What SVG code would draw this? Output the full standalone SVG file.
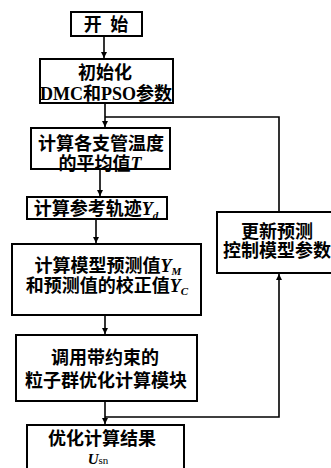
<svg xmlns="http://www.w3.org/2000/svg" width="331" height="468" viewBox="0 0 331 468">
<defs>
<style>
.box{fill:#fff;stroke:#000;stroke-width:2}
.ln{fill:none;stroke:#000;stroke-width:1.6}
text{font-family:"Liberation Serif","Noto Sans CJK SC",serif;font-size:18px;font-weight:bold;text-anchor:middle;fill:#000}
.it{font-style:italic}
.sub{font-size:11px;font-style:italic}
</style>
<marker id="ah" viewBox="0 0 10 10" refX="10" refY="5" markerWidth="10" markerHeight="6" orient="auto" markerUnits="userSpaceOnUse">
<path d="M0,0 L10,5 L0,10 Z" fill="#000"/>
</marker>
</defs>
<rect width="331" height="468" fill="#fff"/>
<g id="connectors">
<line class="ln" x1="104" y1="36" x2="104" y2="58" marker-end="url(#ah)"/>
<line class="ln" x1="105" y1="103" x2="105" y2="127" marker-end="url(#ah)"/>
<polyline class="ln" points="279,212 279,117 105,117"/>
<line class="ln" x1="100" y1="169" x2="100" y2="196" marker-end="url(#ah)"/>
<line class="ln" x1="96" y1="219" x2="96" y2="243" marker-end="url(#ah)"/>
<line class="ln" x1="105" y1="315" x2="105" y2="334" marker-end="url(#ah)"/>
<line class="ln" x1="105" y1="401" x2="105" y2="424" marker-end="url(#ah)"/>
<polyline class="ln" points="105,417 279,417 279,274" marker-end="url(#ah)"/>
</g>
<g id="start">
<rect class="box" x="71" y="12" width="71" height="24"/>
<text x="106" y="31" style="word-spacing:4px">开 始</text>
</g>
<g id="init">
<rect class="box" x="40" y="59" width="133" height="44"/>
<text x="105" y="79">初始化</text>
<text x="106" y="100">DMC和PSO参数</text>
</g>
<g id="avg">
<rect class="box" x="31" y="128" width="139" height="41"/>
<text x="101" y="150">计算各支管温度</text>
<text x="100" y="170">的平均值<tspan class="it">T</tspan></text>
</g>
<g id="ref">
<rect class="box" x="27" y="197" width="140" height="22"/>
<text x="96" y="215">计算参考轨迹<tspan class="it">Y</tspan><tspan class="sub" dy="4">d</tspan></text>
</g>
<g id="model">
<rect class="box" x="12" y="244" width="189" height="71"/>
<text x="108" y="272">计算模型预测值<tspan class="it">Y</tspan><tspan class="sub" dy="3">M</tspan></text>
<text x="107" y="292">和预测值的校正值<tspan class="it">Y</tspan><tspan class="sub" dy="3">C</tspan></text>
</g>
<g id="pso">
<rect class="box" x="16" y="335" width="181" height="66"/>
<text x="105" y="364">调用带约束的</text>
<text x="106" y="387">粒子群优化计算模块</text>
</g>
<g id="result">
<rect class="box" x="27" y="425" width="157" height="60"/>
<text x="102" y="445">优化计算结果</text>
<text x="98" y="464" style="font-size:15px"><tspan class="it">U</tspan><tspan class="sub" style="font-style:normal;font-weight:normal">sn</tspan></text>
</g>
<g id="update">
<rect class="box" x="217" y="212" width="130" height="61"/>
<text x="277" y="238">更新预测</text>
<text x="277" y="257">控制模型参数</text>
</g>
</svg>
